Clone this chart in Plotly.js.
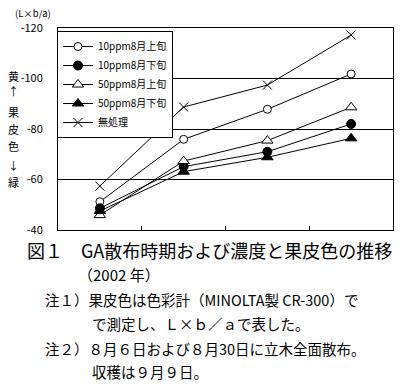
<!DOCTYPE html>
<html><head><meta charset="utf-8">
<script src="https://cdn.plot.ly/plotly-3.0.1.min.js"></script>
<style>html,body{margin:0;padding:0;background:#fff}#c{width:402px;height:384px}</style>
</head><body><div id="c"></div>
<script>
const categories = ['1', '2', '3', '4'];
const seriesNames = ['10ppm8月上旬', '10ppm8月下旬', '50ppm8月上旬', '50ppm8月下旬', '無処理'];
const s10early = [-51.2, -75.9, -87.8, -101.8];
const s10late = [-48.6, -65.1, -71.0, -82.0];
const s50early = [-45.9, -67.3, -75.4, -88.6];
const s50late = [-47.5, -63.1, -68.8, -76.3];
const untreated = [-57.4, -88.7, -97.4, -117.2];
const yTickVals = [-120, -100, -80, -60, -40];
const yTickText = ['-120', '-100', '-80', '-60', '-40'];

const F = '"Noto Sans CJK JP", "DejaVu Sans", sans-serif';
const series = [s10early, s10late, s50early, s50late, untreated];
const symbols = ['circle', 'circle', 'triangle-up', 'triangle-up', 'x-thin-open'];
const fills = ['#fff', '#000', '#fff', '#000', '#000'];
const sizes = [8, 9, 10, 10, 9];
const traces = series.map((v, i) => ({
  x: categories, y: v, name: seriesNames[i], type: 'scatter', mode: 'lines+markers',
  line: {color: '#000', width: 1},
  marker: {symbol: symbols[i], size: sizes[i], color: fills[i],
           line: {color: '#000', width: 1}}
}));

const ann = [];
function txt(text, x, y, size, anchor) {
  ann.push({text: text, xref: 'paper', yref: 'paper', x: x, y: y, showarrow: false,
    xanchor: anchor || 'left', yanchor: 'middle', font: {family: F, size: size, color: '#000'}});
}
const W = 335, H = 202, L = 58, T = 28;
function px(x) { return (x - L) / W; }
function py(y) { return (T + H - y) / H; }
txt('(L×b/a)', px(13), py(13), 9.5);
[['黄', 76], ['↑', 91], ['果', 112], ['皮', 129], ['色', 146], ['↓', 165], ['緑', 182]].forEach(a => {
  txt(a[0], px(13), py(a[1]), 11, 'center');
});
txt('図１　GA散布時期および濃度と果皮色の推移', px(25), py(250), 18);
txt('（2002 年）', px(76), py(274), 15);
txt('注１）果皮色は色彩計（MINOLTA製 CR-300）で', px(43), py(299), 14.5);
txt('で測定し、Ｌ×ｂ／ａで表した。', px(90), py(323), 14.5);
txt('注２）８月６日および８月30日に立木全面散布。', px(43), py(348), 14.5);
txt('収穫は９月９日。', px(90), py(371), 14.5);

const layout = {
  width: 402, height: 384,
  margin: {l: L, r: 402 - L - W, t: T, b: 384 - T - H},
  paper_bgcolor: '#fff', plot_bgcolor: '#fff',
  showlegend: true,
  legend: {x: -0.003, y: 0.985, xanchor: 'left', yanchor: 'top', bgcolor: '#fff',
           bordercolor: '#000', borderwidth: 1, font: {family: F, size: 10, color: '#000'},
           tracegroupgap: 0, itemwidth: 30},
  xaxis: {type: 'category', range: [-0.5, 3.5], showgrid: false, zeroline: false,
          showline: true, linecolor: '#000', linewidth: 1, mirror: true,
          ticks: 'inside', tickson: 'boundaries', ticklen: 4, tickcolor: '#000',
          showticklabels: false, fixedrange: true},
  yaxis: {range: [-40, -120], tickvals: yTickVals, ticktext: yTickText,
          showgrid: true, gridcolor: '#000', gridwidth: 1, zeroline: false,
          showline: true, linecolor: '#000', linewidth: 1, mirror: true,
          ticks: 'outside', ticklen: 12, tickcolor: 'rgba(0,0,0,0)',
          tickfont: {family: F, size: 11, color: '#000'}, fixedrange: true},
  annotations: ann
};
Plotly.newPlot('c', traces, layout, {staticPlot: true, displayModeBar: false});
</script></body></html>
